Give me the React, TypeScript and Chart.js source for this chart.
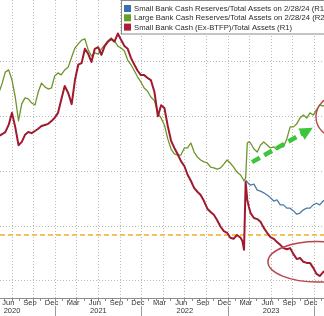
import { useEffect, useRef } from 'react';
import { Chart, registerables } from 'chart.js';

Chart.register(...registerables);

// ---------- data ----------
const DATES = [
  '2020-04-22', '2020-05-06', '2020-05-20', '2020-06-03', '2020-06-17', '2020-07-01', '2020-07-15', '2020-07-29',
  '2020-08-12', '2020-08-26', '2020-09-09', '2020-09-23', '2020-10-07', '2020-10-21', '2020-11-04', '2020-11-18',
  '2020-12-02', '2020-12-16', '2020-12-30',
  '2021-01-13', '2021-01-27', '2021-02-10', '2021-02-24', '2021-03-10', '2021-03-24', '2021-04-07', '2021-04-21',
  '2021-05-05', '2021-05-19', '2021-06-02', '2021-06-16', '2021-06-30', '2021-07-14', '2021-07-28', '2021-08-11',
  '2021-08-25', '2021-09-08', '2021-09-22', '2021-10-06', '2021-10-20', '2021-11-03', '2021-11-17', '2021-12-01',
  '2021-12-15', '2021-12-29',
  '2022-01-12', '2022-01-26', '2022-02-09', '2022-02-23', '2022-03-09', '2022-03-23', '2022-04-06', '2022-04-20',
  '2022-05-04', '2022-05-18', '2022-06-01', '2022-06-15', '2022-06-29', '2022-07-13', '2022-07-27', '2022-08-10',
  '2022-08-24', '2022-09-07', '2022-09-21', '2022-10-05', '2022-10-19', '2022-11-02', '2022-11-16', '2022-11-30',
  '2022-12-14', '2022-12-28',
  '2023-01-11', '2023-01-25', '2023-02-08', '2023-02-22', '2023-03-01', '2023-03-08', '2023-03-15', '2023-03-22',
  '2023-03-29', '2023-04-05', '2023-04-19', '2023-05-03', '2023-05-17', '2023-05-31', '2023-06-14', '2023-06-28',
  '2023-07-12', '2023-07-26', '2023-08-09', '2023-08-23', '2023-09-06', '2023-09-20', '2023-10-04', '2023-10-18',
  '2023-11-01', '2023-11-15', '2023-11-29', '2023-12-13', '2023-12-27',
  '2024-01-10', '2024-01-24', '2024-02-07', '2024-02-21', '2024-02-28',
];

// Small Bank Cash (Ex-BTFP)/Total Assets, % (R1)
const SMALL_EX_BTFP = [
  6.61, 6.65, 6.68, 6.72, 6.85, 7.07, 6.81, 6.48,
  6.54, 6.67, 6.72, 6.70, 6.74, 6.78, 6.83, 6.85,
  6.87, 6.92, 6.98,
  7.07, 7.31, 7.56, 7.43, 7.23, 7.67, 7.95, 7.98,
  8.24, 8.15, 8.00, 8.24, 8.27, 8.13, 8.29, 8.37,
  8.42, 8.37, 8.52, 8.40, 8.29, 8.24, 8.07, 7.95,
  7.84, 7.76,
  7.76, 7.71, 7.67, 7.45, 7.01, 7.21, 7.16, 6.83,
  6.56, 6.43, 6.32, 6.19, 6.10, 5.94, 5.83, 5.70,
  5.63, 5.57, 5.46, 5.32, 5.26, 5.21, 5.11, 4.99,
  4.91, 4.88,
  4.79, 4.77, 4.84, 4.79, 4.73, 4.57, 5.81, 5.48,
  5.35, 5.24, 5.15, 5.13, 5.08, 4.97, 4.88, 4.80,
  4.77, 4.71, 4.66, 4.60, 4.58, 4.60, 4.49, 4.40,
  4.42, 4.35, 4.33, 4.33, 4.24,
  4.13, 4.09, 4.16, 4.20, 4.20,
];

// Large Bank Cash Reserves/Total Assets, % (R2)
const LARGE_RESERVES = [
  16.61, 16.87, 17.20, 17.63, 17.71, 17.34, 16.72, 15.85,
  16.47, 16.69, 16.65, 16.50, 16.43, 16.90, 17.23, 17.09,
  17.01, 17.05, 17.49,
  17.60, 17.53, 17.71, 17.82, 18.18, 18.51, 18.66, 18.80,
  18.84, 18.44, 18.22, 18.33, 18.29, 18.48, 18.62, 18.77,
  18.88, 18.77, 18.58, 18.51, 18.40, 18.07, 17.89, 17.67,
  17.45, 17.27,
  17.05, 16.94, 16.72, 16.58, 16.14, 15.95, 15.70, 15.19,
  14.82, 14.64, 14.60, 14.60, 14.86, 14.86, 15.04, 14.71,
  14.53, 14.42, 14.35, 14.31, 14.16, 14.13, 14.09, 14.13,
  14.27, 14.42,
  14.31, 14.16, 13.98, 13.87, 13.76, 13.65, 13.76, 15.04,
  15.08, 15.04, 14.82, 14.71, 14.97, 15.08, 14.97, 14.86,
  14.90, 14.79, 14.90, 14.90, 15.19, 15.63, 15.63, 15.74,
  15.95, 16.06, 15.95, 16.14, 16.06,
  16.25, 16.43, 16.39, 16.47, 16.47,
];

// Small Bank Cash Reserves/Total Assets, % (R1) - shown where it departs from the Ex-BTFP line
const SMALL_RESERVES = [
  null, null, null, null, null, null, null, null,
  null, null, null, null, null, null, null, null,
  null, null, null,
  null, null, null, null, null, null, null, null,
  null, null, null, null, null, null, null, null,
  null, null, null, null, null, null, null, null,
  null, null,
  null, null, null, null, null, null, null, null,
  null, null, null, null, null, null, null, null,
  null, null, null, null, null, null, null, null,
  null, null,
  null, null, null, null, null, null, 5.84, 5.81,
  5.77, 5.75, 5.77, 5.66, 5.64, 5.61, 5.57, 5.52,
  5.46, 5.48, 5.39, 5.39, 5.33, 5.33, 5.28, 5.22,
  5.24, 5.30, 5.33, 5.33, 5.39,
  5.42, 5.39, 5.46, 5.50, 5.52,
];

const REFERENCE_LEVEL = 4.84; // dashed yellow line (R1)

const SERIES_LABELS = [
  'Small Bank Cash Reserves/Total Assets on 2/28/24 (R1)',
  'Large Bank Cash Reserves/Total Assets on 2/28/24 (R2)',
  'Small Bank Cash (Ex-BTFP)/Total Assets (R1)',
];

const MONTH_TICK_DATES = [
  '2020-06-16', '2020-09-16', '2020-12-16', '2021-03-16', '2021-06-16', '2021-09-16', '2021-12-16',
  '2022-03-16', '2022-06-16', '2022-09-16', '2022-12-16', '2023-03-16', '2023-06-16', '2023-09-16', '2023-12-16',
];
const MONTH_TICK_LABELS = ['Jun', 'Sep', 'Dec', 'Mar', 'Jun', 'Sep', 'Dec', 'Mar', 'Jun', 'Sep', 'Dec', 'Mar', 'Jun', 'Sep', 'Dec'];
const YEAR_TICK_DATES = ['2020-07-01', '2021-07-01', '2022-07-01', '2023-07-01'];
const YEAR_TICK_LABELS = ['2020', '2021', '2022', '2023'];
const YEAR_BREAK_DATES = ['2021-01-01', '2022-01-01', '2023-01-01', '2024-01-01'];

// annotations (drawn in data space)
const ARROW_FROM = { date: '2023-04-11', value: 6.17 };
const ARROW_TO = { date: '2023-12-25', value: 6.8 };
const ELLIPSES = [
  { date: '2024-01-16', value: 4.35, rxMonths: 6.94, ryUnits: 0.37 },
  { date: '2024-04-01', value: 7.0, rxMonths: 2.78, ryUnits: 0.37 },
];

// ---------- layout constants ----------
const X_MIN = 4.333;
const X_MAX = 49.333;
const Y_MIN = 3.689;
const Y_MAX = 9.132;
const Y2_MIN = 9.378;
const Y2_MAX = 20.264;

const COLORS = {
  blue: '#4d7aa6',
  green: '#6f952a',
  red: '#a0192f',
  yellow: '#f0b020',
  grid: '#b9b9b9',
  axis: '#8c8c8c',
  text: '#333333',
};
const LEGEND_SWATCHES = ['#3a6fb0', '#65a126', '#b41c36'];
const FONT = '"Liberation Sans", Arial, sans-serif';

function toMonth(s: string): number {
  const [y, mo, d] = s.split('-').map(Number);
  const dim = new Date(Date.UTC(y, mo, 0)).getUTCDate();
  return (y - 2020) * 12 + (mo - 1) + (d - 1) / dim;
}

function series(values: (number | null)[]) {
  return DATES.map((d, i) => ({ x: toMonth(d), y: values[i] }));
}

const overlayPlugin = {
  id: 'overlay',
  afterDatasetsDraw(chart: any) {
    const { ctx } = chart;
    const xs = chart.scales.x;
    const ys = chart.scales.y;
    // ellipses
    ctx.save();
    ctx.strokeStyle = '#b8474a';
    ctx.lineWidth = 1.4;
    ELLIPSES.forEach((e) => {
      const m = toMonth(e.date);
      const cx = xs.getPixelForValue(m);
      const cy = ys.getPixelForValue(e.value);
      const rx = Math.abs(xs.getPixelForValue(m + e.rxMonths) - cx);
      const ry = Math.abs(ys.getPixelForValue(e.value + e.ryUnits) - cy);
      ctx.beginPath();
      ctx.ellipse(cx, cy, rx, ry, 0, 0, Math.PI * 2);
      ctx.stroke();
    });
    // arrow
    const x0 = xs.getPixelForValue(toMonth(ARROW_FROM.date));
    const y0 = ys.getPixelForValue(ARROW_FROM.value);
    const x1 = xs.getPixelForValue(toMonth(ARROW_TO.date));
    const y1 = ys.getPixelForValue(ARROW_TO.value);
    const len = Math.hypot(x1 - x0, y1 - y0);
    const ux = (x1 - x0) / len;
    const uy = (y1 - y0) / len;
    const headLen = 13;
    const headHalf = 6.5;
    ctx.strokeStyle = '#3cc63c';
    ctx.fillStyle = '#3cc63c';
    ctx.lineWidth = 4.5;
    ctx.setLineDash([9, 5]);
    ctx.beginPath();
    ctx.moveTo(x0, y0);
    ctx.lineTo(x1 - ux * (headLen - 1), y1 - uy * (headLen - 1));
    ctx.stroke();
    ctx.setLineDash([]);
    const bx = x1 - ux * headLen;
    const by = y1 - uy * headLen;
    ctx.beginPath();
    ctx.moveTo(x1, y1);
    ctx.lineTo(bx - uy * headHalf, by + ux * headHalf);
    ctx.lineTo(bx + uy * headHalf, by - ux * headHalf);
    ctx.closePath();
    ctx.fill();
    ctx.restore();
  },
  afterDraw(chart: any) {
    const { ctx } = chart;
    ctx.save();
    const left = 121.5;
    const top = 0.5;
    ctx.fillStyle = '#ffffff';
    ctx.fillRect(left, top, 260, 33.5);
    ctx.strokeStyle = '#8a8a8a';
    ctx.lineWidth = 1;
    ctx.strokeRect(left, top, 260, 33.5);
    ctx.font = `7.7px ${FONT}`;
    ctx.textBaseline = 'middle';
    ctx.textAlign = 'left';
    SERIES_LABELS.forEach((label, i) => {
      const cy = 8.5 + i * 9.3;
      ctx.fillStyle = LEGEND_SWATCHES[i];
      ctx.fillRect(124, cy - 3.5, 7, 7);
      ctx.fillStyle = '#2a2a2a';
      ctx.fillText(label, 134, cy + 0.3);
    });
    ctx.restore();
  },
};

const MONTH_STARTS: number[] = [];
for (let m = 5; m <= 49; m++) MONTH_STARTS.push(m);

export default function App() {
  const ref = useRef<HTMLCanvasElement>(null);

  useEffect(() => {
    if (!ref.current) return;
    Chart.defaults.font.family = FONT;
    const yearTicks = [
      ...YEAR_TICK_DATES.map((d, i) => ({ value: toMonth(d), label: YEAR_TICK_LABELS[i] })),
      ...YEAR_BREAK_DATES.map((d) => ({ value: toMonth(d), label: '' })),
    ].sort((a, b) => a.value - b.value);

    const chart = new Chart(ref.current, {
      type: 'line',
      data: {
        datasets: [
          {
            label: SERIES_LABELS[0],
            data: series(SMALL_RESERVES),
            borderColor: COLORS.blue,
            borderWidth: 1.3,
            yAxisID: 'y',
            order: 2,
          },
          {
            label: SERIES_LABELS[1],
            data: series(LARGE_RESERVES),
            borderColor: COLORS.green,
            borderWidth: 1.3,
            yAxisID: 'y2',
            order: 1,
          },
          {
            label: SERIES_LABELS[2],
            data: series(SMALL_EX_BTFP),
            borderColor: COLORS.red,
            borderWidth: 2,
            yAxisID: 'y',
            order: 0,
          },
          {
            label: 'level',
            data: [
              { x: X_MIN, y: REFERENCE_LEVEL },
              { x: X_MAX, y: REFERENCE_LEVEL },
            ],
            borderColor: COLORS.yellow,
            borderWidth: 1.5,
            borderDash: [5, 3],
            yAxisID: 'y',
            order: 3,
          },
        ],
      },
      options: {
        responsive: false,
        animation: false,
        events: [],
        layout: { padding: 0 },
        elements: {
          point: { radius: 0 },
          line: { tension: 0, borderJoinStyle: 'round', fill: false },
        },
        plugins: {
          legend: { display: false },
          tooltip: { enabled: false },
        },
        scales: {
          x: {
            type: 'linear',
            position: 'bottom',
            weight: 0,
            min: X_MIN,
            max: X_MAX,
            afterBuildTicks: (s: any) => {
              s.ticks = MONTH_STARTS.map((v) => ({ value: v }));
            },
            afterFit: (s: any) => {
              s.height = 0;
            },
            ticks: { display: false },
            grid: {
              display: true,
              drawOnChartArea: true,
              drawTicks: true,
              tickLength: 3,
              lineWidth: 1,
              color: (c: any) =>
                c.tick && Math.round(c.tick.value) % 3 === 0 ? COLORS.grid : 'rgba(0,0,0,0)',
              tickColor: COLORS.axis,
              tickBorderDash: [],
            },
            border: { display: true, color: COLORS.axis, width: 1, dash: [1, 2] },
          },
          x2: {
            type: 'linear',
            position: 'bottom',
            weight: 1,
            min: X_MIN,
            max: X_MAX,
            afterBuildTicks: (s: any) => {
              s.ticks = MONTH_TICK_DATES.map((d) => ({ value: toMonth(d) }));
            },
            afterFit: (s: any) => {
              s.height = 8;
            },
            grid: { display: false, drawTicks: false },
            border: { display: false },
            ticks: {
              autoSkip: false,
              maxRotation: 0,
              minRotation: 0,
              padding: 0,
              color: COLORS.text,
              font: { size: 7.5 },
              callback: (_v: any, i: number) => MONTH_TICK_LABELS[i],
            },
          },
          x3: {
            type: 'linear',
            position: 'bottom',
            weight: 2,
            min: X_MIN,
            max: X_MAX,
            afterBuildTicks: (s: any) => {
              s.ticks = yearTicks.map((t) => ({ value: t.value }));
            },
            afterFit: (s: any) => {
              s.height = 10;
            },
            grid: {
              display: true,
              drawOnChartArea: false,
              drawTicks: true,
              tickLength: 10,
              tickColor: (c: any) =>
                c.tick && yearTicks[c.index] && yearTicks[c.index].label === '' ? '#9a9a9a' : 'rgba(0,0,0,0)',
              tickBorderDash: [],
            },
            border: { display: false },
            ticks: {
              autoSkip: false,
              maxRotation: 0,
              minRotation: 0,
              padding: -10,
              color: COLORS.text,
              font: { size: 7.5 },
              callback: (_v: any, i: number) => yearTicks[i].label,
            },
          },
          y: {
            type: 'linear',
            position: 'left',
            min: Y_MIN,
            max: Y_MAX,
            afterBuildTicks: (s: any) => {
              s.ticks = [4, 5, 6, 7, 8].map((v) => ({ value: v }));
            },
            afterFit: (s: any) => {
              s.width = 0;
            },
            ticks: { display: false },
            grid: { color: COLORS.grid, drawTicks: false, lineWidth: 1 },
            border: { display: false, dash: [1, 2] },
          },
          y2: {
            type: 'linear',
            position: 'right',
            display: false,
            min: Y2_MIN,
            max: Y2_MAX,
          },
        },
      } as any,
      plugins: [overlayPlugin],
    });
    return () => chart.destroy();
  }, []);

  return (
    <div style={{ position: 'absolute', left: 0, top: 0, width: 324, height: 316, background: '#fff' }}>
      <canvas ref={ref} width={324} height={316} style={{ display: 'block' }} />
    </div>
  );
}
